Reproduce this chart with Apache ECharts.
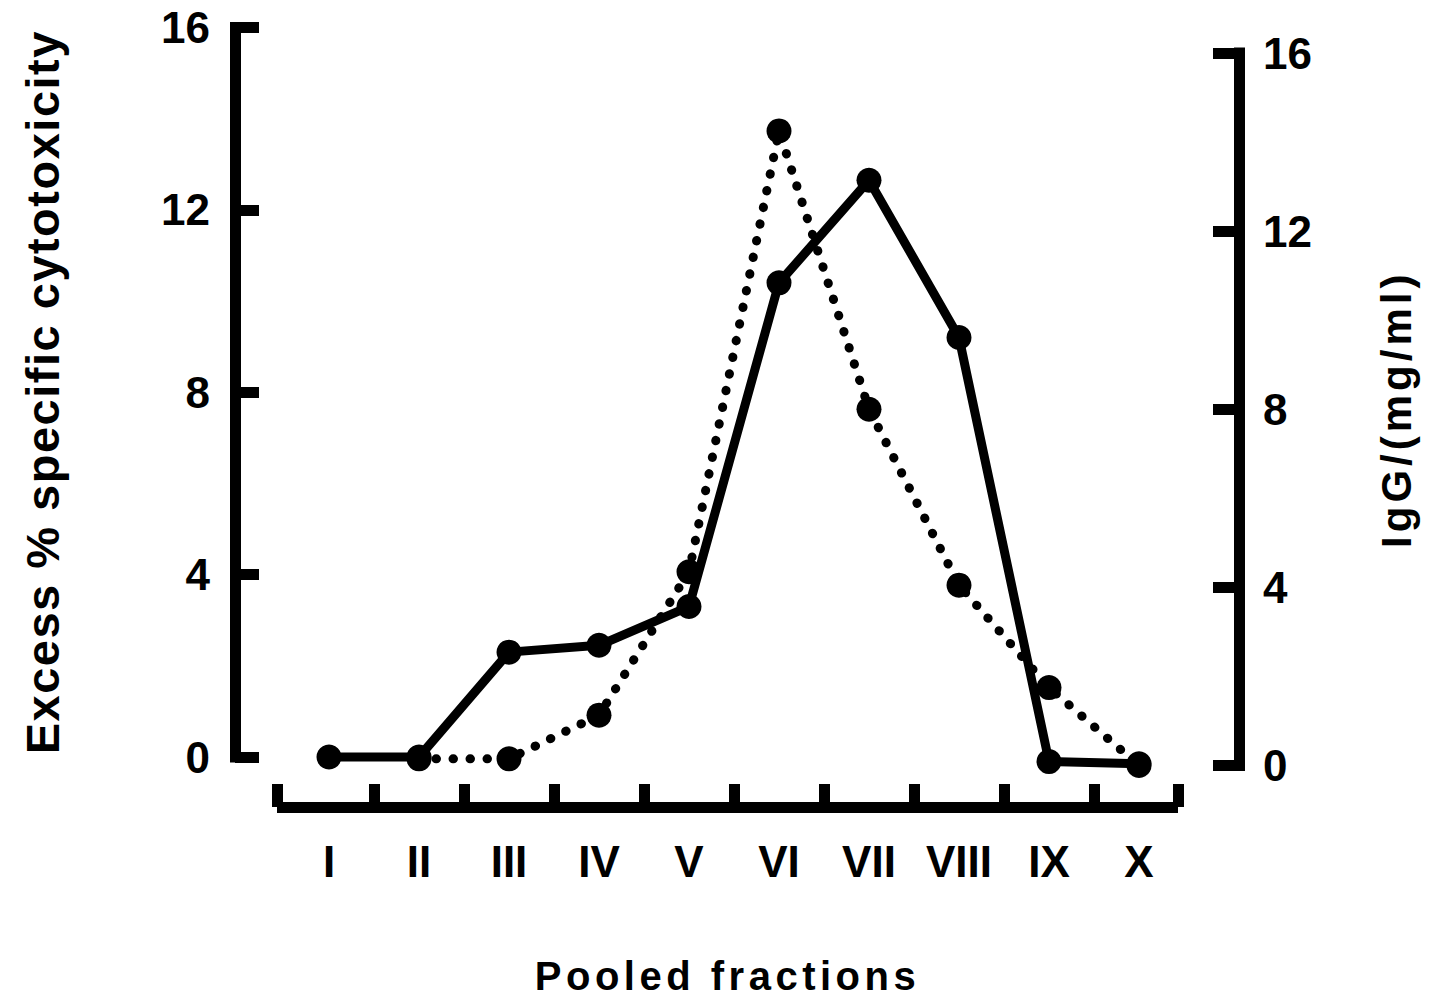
<!DOCTYPE html>
<html>
<head>
<meta charset="utf-8">
<script src="https://cdn.jsdelivr.net/npm/echarts@6/dist/echarts.min.js"></script>
<style>
  html, body { margin: 0; padding: 0; background: #ffffff; }
  #chart { width: 1439px; height: 1004px; }
  /* wider tracking for the axis titles */
  #chart text[style*="40px"] { letter-spacing: 4.5px; }
  #chart text[style*="42px"] { letter-spacing: 4px; }
  #chart text[style*="47px"] { letter-spacing: 1.5px; }
</style>
</head>
<body>
<div id="chart"></div>
<script>
// Pooled fractions from the column
const categories = ['I', 'II', 'III', 'IV', 'V', 'VI', 'VII', 'VIII', 'IX', 'X'];
// Excess % specific cytotoxicity (solid line, left axis)
const cytotoxicity = [0, 0, 2.3, 2.45, 3.3, 10.4, 12.65, 9.2, -0.1, -0.15];
// IgG concentration, mg/ml (dotted line, right axis)
const igg = [null, 0.15, 0.15, 1.13, 4.35, 14.25, 8.0, 4.05, 1.75, 0];
// y-axis scale
const yTicks = [0, 4, 8, 12, 16];

const FONT = '"Liberation Sans", Arial, Helvetica, sans-serif';
const INK = '#000000';

// category axis is drawn as a numeric 1..10 axis so ticks can sit between fractions
const xMin = 0.4222, xMax = 10.4333;
const fractionIdx = categories.map((c, i) => i + 1);
const betweenTicks = [xMin].concat(categories.slice(1).map((c, i) => i + 1.5), [xMax]);

const toPairs = arr => arr.map((v, i) => [i + 1, v]);

const chart = echarts.init(document.getElementById('chart'), null, { renderer: 'svg' });

const yAxisBase = {
  type: 'value',
  min: yTicks[0],
  max: yTicks[yTicks.length - 1],
  interval: 4,
  nameLocation: 'middle',
  nameRotate: 90,
  axisLine: { show: true, lineStyle: { color: INK, width: 11, cap: 'square' } },
  axisTick: { show: true, inside: true, lineStyle: { color: INK, width: 11 } },
  axisLabel: { color: INK, fontFamily: FONT, fontWeight: 'bold', fontSize: 44 },
  splitLine: { show: false }
};

chart.setOption({
  animation: false,
  backgroundColor: '#ffffff',
  grid: [
    { left: 277, right: 1439 - 1178, top: 27.5, height: 729.5, containLabel: false },
    { left: 277, right: 1439 - 1178, top: 53, height: 712.5, containLabel: false }
  ],
  xAxis: [
    {
      gridIndex: 0,
      type: 'value',
      min: xMin,
      max: xMax,
      position: 'bottom',
      offset: 50,
      name: 'Pooled fractions',
      nameLocation: 'middle',
      nameGap: 149,
      nameTextStyle: { color: INK, fontFamily: FONT, fontWeight: 'bold', fontSize: 40 },
      axisLine: { show: true, onZero: false, lineStyle: { color: INK, width: 11, cap: 'butt' } },
      axisTick: {
        show: true, inside: true, length: 23,
        customValues: betweenTicks,
        lineStyle: { color: INK, width: 11 }
      },
      axisLabel: {
        color: INK, fontFamily: FONT, fontWeight: 'bold', fontSize: 44, margin: 32,
        customValues: fractionIdx,
        formatter: v => categories[Math.round(v) - 1]
      },
      splitLine: { show: false }
    },
    { gridIndex: 1, type: 'value', min: xMin, max: xMax, show: false }
  ],
  yAxis: [
    Object.assign({}, yAxisBase, {
      gridIndex: 0,
      position: 'left',
      offset: 42,
      name: 'Excess % specific cytotoxicity',
      nameGap: 169,
      nameTextStyle: { color: INK, fontFamily: FONT, fontWeight: 'bold', fontSize: 47 },
      axisTick: Object.assign({}, yAxisBase.axisTick, { length: 24 }),
      axisLabel: Object.assign({}, yAxisBase.axisLabel, { margin: 25 })
    }),
    Object.assign({}, yAxisBase, {
      gridIndex: 1,
      position: 'right',
      offset: 61,
      name: 'IgG/(mg/ml)',
      nameGap: 136,
      nameTextStyle: { color: INK, fontFamily: FONT, fontWeight: 'bold', fontSize: 42 },
      axisTick: Object.assign({}, yAxisBase.axisTick, { length: 26 }),
      axisLabel: Object.assign({}, yAxisBase.axisLabel, { margin: 24 })
    })
  ],
  series: [
    {
      name: 'Excess % specific cytotoxicity',
      type: 'line',
      xAxisIndex: 0,
      yAxisIndex: 0,
      data: toPairs(cytotoxicity),
      clip: false,
      symbol: 'circle',
      symbolSize: 25,
      itemStyle: { color: INK },
      lineStyle: { color: INK, width: 9, cap: 'round', join: 'round' },
      z: 3
    },
    {
      name: 'IgG',
      type: 'line',
      xAxisIndex: 1,
      yAxisIndex: 1,
      data: toPairs(igg),
      clip: false,
      connectNulls: false,
      symbol: 'circle',
      symbolSize: 25,
      itemStyle: { color: INK },
      lineStyle: { color: INK, width: 9, type: [0.5, 16.5], cap: 'round', join: 'round' },
      z: 4
    }
  ]
});
</script>
</body>
</html>
